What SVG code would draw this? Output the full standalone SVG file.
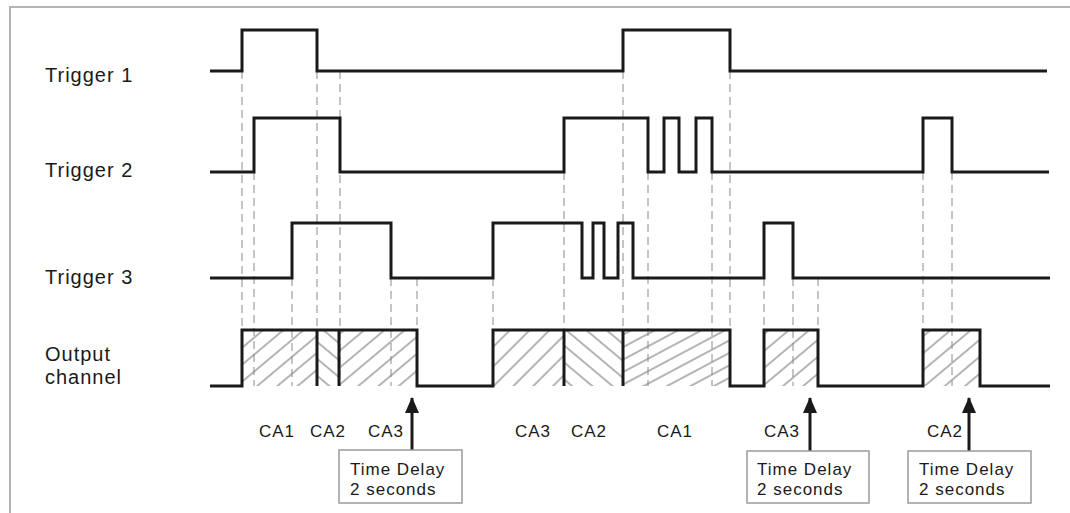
<svg xmlns="http://www.w3.org/2000/svg" width="1070" height="513" viewBox="0 0 1070 513">
<style>
.wave{fill:none;stroke:#1a1a1a;stroke-width:3;stroke-linejoin:miter;stroke-linecap:butt}
.sep{stroke:#1a1a1a;stroke-width:3}
.dash{stroke:#8a8a8a;stroke-width:1;stroke-dasharray:8 5;fill:none}
.lbl{font-family:"Liberation Sans",Arial,sans-serif;font-size:20px;letter-spacing:1px;fill:#1a1a1a}
.ca{font-family:"Liberation Sans",Arial,sans-serif;font-size:17px;letter-spacing:1px;fill:#1a1a1a}
.box{fill:#fff;stroke:#9a9a9a;stroke-width:1.5}
.arrow{stroke:#1a1a1a;stroke-width:3;marker-end:url(#head)}
.frame{stroke:#b4b4b4;stroke-width:2;fill:none}
.hl{stroke:#6a6a6a;stroke-width:1}
</style>
<defs>
<pattern id="hA" width="20" height="13" patternUnits="userSpaceOnUse" patternTransform="rotate(-40)"><line x1="0" y1="6" x2="20" y2="6" class="hl"/></pattern>
<pattern id="hB" width="20" height="13" patternUnits="userSpaceOnUse" patternTransform="rotate(40)"><line x1="0" y1="6" x2="20" y2="6" class="hl"/></pattern>
<pattern id="hC" width="20" height="11" patternUnits="userSpaceOnUse" patternTransform="rotate(-28)"><line x1="0" y1="5" x2="20" y2="5" class="hl"/></pattern>
<pattern id="hD" width="20" height="14" patternUnits="userSpaceOnUse" patternTransform="rotate(-45)"><line x1="0" y1="6" x2="20" y2="6" class="hl"/></pattern>
<marker id="head" markerUnits="userSpaceOnUse" markerWidth="16" markerHeight="16" refX="15" refY="8" orient="auto" viewBox="0 0 16 16">
<path d="M16,8 L0,1 L0,15 Z" fill="#1a1a1a"/>
</marker>
</defs>
<path class="frame" d="M10,513 V7 H1070"/>
<g id="labels">
<text class="lbl" x="45" y="82">Trigger 1</text>
<text class="lbl" x="45" y="177">Trigger 2</text>
<text class="lbl" x="45" y="284">Trigger 3</text>
<text class="lbl" x="45" y="361">Output</text>
<text class="lbl" x="45" y="384">channel</text>
</g>
<g id="hatching">
<rect x="242" y="330" width="75" height="56" fill="url(#hA)"/>
<rect x="317" y="330" width="22" height="56" fill="url(#hB)"/>
<rect x="339" y="330" width="78" height="56" fill="url(#hA)"/>
<rect x="493" y="330" width="71" height="56" fill="url(#hD)"/>
<rect x="564" y="330" width="59" height="56" fill="url(#hB)"/>
<rect x="623" y="330" width="107" height="56" fill="url(#hC)"/>
<rect x="764" y="330" width="54" height="56" fill="url(#hA)"/>
<rect x="923" y="330" width="57" height="56" fill="url(#hA)"/>
</g>
<g id="connectors">
<line class="dash" x1="242" y1="71" x2="242" y2="386"/>
<line class="dash" x1="317" y1="71" x2="317" y2="386"/>
<line class="dash" x1="340" y1="71" x2="340" y2="386"/>
<line class="dash" x1="254" y1="172" x2="254" y2="386"/>
<line class="dash" x1="292" y1="278" x2="292" y2="386"/>
<line class="dash" x1="391" y1="278" x2="391" y2="386"/>
<line class="dash" x1="417" y1="278" x2="417" y2="330"/>
<line class="dash" x1="493" y1="278" x2="493" y2="330"/>
<line class="dash" x1="564" y1="172" x2="564" y2="330"/>
<line class="dash" x1="623" y1="71" x2="623" y2="330"/>
<line class="dash" x1="648" y1="172" x2="648" y2="386"/>
<line class="dash" x1="712" y1="172" x2="712" y2="386"/>
<line class="dash" x1="730" y1="71" x2="730" y2="330"/>
<line class="dash" x1="764" y1="278" x2="764" y2="330"/>
<line class="dash" x1="793" y1="278" x2="793" y2="386"/>
<line class="dash" x1="818" y1="278" x2="818" y2="330"/>
<line class="dash" x1="923" y1="172" x2="923" y2="330"/>
<line class="dash" x1="952" y1="172" x2="952" y2="386"/>
<line class="arrow" x1="412" y1="450" x2="412" y2="398"/>
<line class="arrow" x1="810" y1="451" x2="810" y2="398"/>
<line class="arrow" x1="969" y1="451" x2="969" y2="398"/>
</g>
<g id="trigger1">
<polyline class="wave" points="210,71 242,71 242,30 317,30 317,71 623,71 623,30 730,30 730,71 1047,71"/>
</g>
<g id="trigger2">
<polyline class="wave" points="210,172 254,172 254,118 340,118 340,172 564,172 564,118 648,118 648,172 664,172 664,118 679,118 679,172 696,172 696,118 712,118 712,172 923,172 923,118 952,118 952,172 1049,172"/>
</g>
<g id="trigger3">
<polyline class="wave" points="210,278 292,278 292,223 391,223 391,278 493,278 493,223 582,223 582,278 593,278 593,223 604,223 604,278 618,278 618,223 633,223 633,278 764,278 764,223 793,223 793,278 1050,278"/>
</g>
<g id="output">
<polyline class="wave" points="210,386 242,386 242,330 417,330 417,386 493,386 493,330 730,330 730,386 764,386 764,330 818,330 818,386 923,386 923,330 980,330 980,386 1050,386"/>
<line class="sep" x1="317" y1="330" x2="317" y2="386"/>
<line class="sep" x1="339" y1="330" x2="339" y2="386"/>
<line class="sep" x1="564" y1="330" x2="564" y2="386"/>
<line class="sep" x1="623" y1="330" x2="623" y2="386"/>
</g>
<g id="ca-labels">
<text class="ca" x="259" y="437">CA1</text>
<text class="ca" x="310" y="437">CA2</text>
<text class="ca" x="368" y="437">CA3</text>
<text class="ca" x="515" y="437">CA3</text>
<text class="ca" x="571" y="437">CA2</text>
<text class="ca" x="657" y="437">CA1</text>
<text class="ca" x="764" y="437">CA3</text>
<text class="ca" x="927" y="437">CA2</text>
</g>
<g id="delay1">
<rect class="box" x="339" y="450" width="123" height="53"/>
<text class="ca" x="350" y="475">Time Delay</text>
<text class="ca" x="350" y="495">2 seconds</text>
</g>
<g id="delay2">
<rect class="box" x="747" y="451" width="122" height="52"/>
<text class="ca" x="757" y="475">Time Delay</text>
<text class="ca" x="757" y="495">2 seconds</text>
</g>
<g id="delay3">
<rect class="box" x="908" y="451" width="123" height="52"/>
<text class="ca" x="919" y="475">Time Delay</text>
<text class="ca" x="919" y="495">2 seconds</text>
</g>
</svg>
